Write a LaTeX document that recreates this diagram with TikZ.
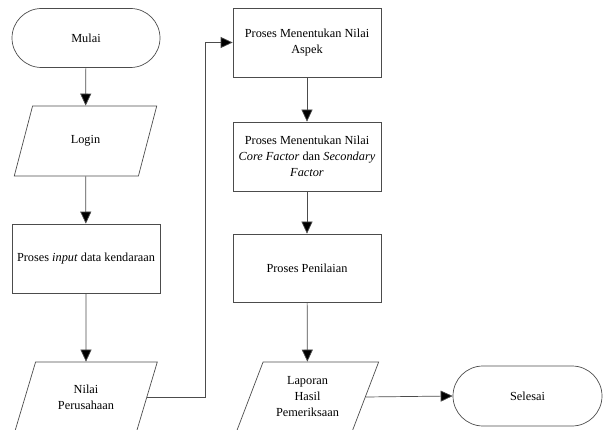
\documentclass[tikz,border=0pt]{standalone}
\usepackage{fontspec}
\setmainfont{Liberation Serif}
\usetikzlibrary{shapes.geometric,arrows.meta}
\begin{document}
\begin{tikzpicture}[x=1pt,y=-1pt,
  every node/.style={font=\fontsize{12.3}{16}\selectfont, align=center, text=black},
  ln/.style={draw=black!70, line width=0.7pt},
  arr/.style={ln, -{Triangle[length=12pt,width=11pt,fill=black]}},
  term/.style={ln, rectangle, rounded corners=29.5pt, minimum width=148pt, minimum height=59pt, inner sep=0pt},
  proc/.style={ln, rectangle, minimum width=148pt, minimum height=69pt, inner sep=0pt},
  io/.style={ln, trapezium, trapezium left angle=64.8, trapezium right angle=115.2, trapezium stretches=true, minimum width=143pt, minimum height=70pt, inner sep=0pt}
]
\clip (0,0) rectangle (608,430);
\useasboundingbox (0,0) rectangle (608,430);
\node[term] (mulai) at (86,38) {Mulai};
\node[io] (login) at (85.5,141) {Login};
\node[proc] (input) at (86,258.5) {Proses \textit{input} data kendaraan};
\node[io] (np) at (86,397) {Nilai\\Perusahaan};
\node[proc] (aspek) at (307,42.5) {Proses Menentukan Nilai\\Aspek};
\node[proc] (core) at (307,156.5) {Proses Menentukan Nilai\\\textit{Core Factor} dan \textit{Secondary}\\\textit{Factor}};
\node[proc, minimum height=68pt] (nilai) at (307,268) {Proses Penilaian};
\node[io] (lap) at (307.5,397) {Laporan\\Hasil\\Pemeriksaan};
\node[term, minimum width=149pt, minimum height=60pt, rounded corners=30pt] (selesai) at (527.5,396) {Selesai};
\draw[arr] (mulai) -- (login);
\draw[arr] (login) -- (input);
\draw[arr] (input) -- (np);
\draw[arr] (np.east) -| ([xshift=-27pt]aspek.west) -- (aspek.west);
\draw[arr] (aspek) -- (core);
\draw[arr] (core) -- (nilai);
\draw[arr] (nilai) -- (lap);
\draw[arr] (lap.east) -- (selesai.west);
\end{tikzpicture}
\end{document}
